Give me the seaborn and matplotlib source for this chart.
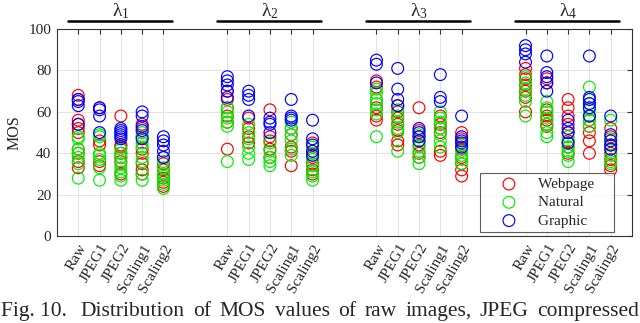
import numpy as np
import pandas as pd
import matplotlib
matplotlib.use("Agg")
import matplotlib.pyplot as plt
import seaborn as sns

categories = ["Raw", "JPEG1", "JPEG2", "Scaling1", "Scaling2"]
groups = [r"$\mathregular{\lambda_1}$", r"$\mathregular{\lambda_2}$",
          r"$\mathregular{\lambda_3}$", r"$\mathregular{\lambda_4}$"]
classes = ["Webpage", "Natural", "Graphic"]

# MOS values per category (Raw, JPEG1, JPEG2, Scaling1, Scaling2)
webpage_l1 = [[68, 66, 56, 54, 52, 50, 42, 40, 36, 33],
              [62, 46, 44, 36, 34],
              [58, 44, 43, 40, 38, 36, 30],
              [54, 52, 48, 42, 40, 35, 32, 30],
              [38, 35, 32, 28, 26, 24]]
natural_l1 = [[48, 47, 42, 40, 38, 35, 28],
              [49, 48, 40, 39, 37, 33, 27],
              [42, 40, 38, 35, 33, 31, 29, 27],
              [50, 48, 45, 43, 38, 36, 30, 27],
              [36, 33, 30, 29, 27, 25, 23]]
graphic_l1 = [[66, 65, 63, 54],
              [62, 61, 58, 50],
              [52, 51, 50, 49, 48, 47],
              [60, 58, 53, 51, 47],
              [48, 46, 44, 41, 38]]

webpage_l2 = [[70, 66, 62, 58, 55, 42],
              [57, 52, 48, 45],
              [61, 48, 46, 42, 38],
              [52, 49, 43, 41, 34],
              [45, 38, 35, 32, 30]]
natural_l2 = [[62, 60, 57, 55, 53, 36],
              [54, 50, 47, 43, 40, 37],
              [45, 41, 38, 36, 34],
              [55, 52, 49, 46, 42, 39],
              [43, 40, 37, 34, 31, 29, 27]]
graphic_l2 = [[77, 75, 73, 70, 67],
              [70, 68, 66, 58],
              [57, 55, 54, 50],
              [66, 58, 57, 56],
              [56, 47, 44, 41, 39]]

webpage_l3 = [[75, 72, 66, 62, 58, 56],
              [63, 60, 57, 54, 51, 46, 44],
              [62, 51, 48, 44, 40, 38],
              [58, 54, 52, 50, 41, 39],
              [50, 47, 42, 38, 35, 32, 29]]
natural_l3 = [[71, 69, 66, 64, 61, 59, 48],
              [61, 58, 55, 52, 50, 41],
              [49, 46, 43, 41, 38, 35],
              [60, 57, 55, 52, 49, 46, 43],
              [44, 41, 39, 37, 35]]
graphic_l3 = [[85, 83, 74],
              [81, 71, 66, 63],
              [52, 50, 48, 46],
              [78, 67, 65],
              [58, 48, 46, 45, 43]]

webpage_l4 = [[81, 78, 76, 73, 70, 67, 60],
              [76, 74, 61, 58, 56, 54, 53],
              [66, 62, 58, 54, 50, 46, 43, 40],
              [58, 56, 53, 50, 46, 40],
              [52, 48, 44, 40, 37, 34, 32]]
natural_l4 = [[77, 74, 71, 68, 65, 58],
              [65, 62, 60, 57, 54, 50, 48],
              [48, 45, 43, 41, 39, 36],
              [72, 64, 61, 58, 56, 53],
              [56, 47, 42, 39, 36, 35]]
graphic_l4 = [[92, 90, 88, 84],
              [87, 79, 77, 74, 70],
              [56, 52, 50, 45],
              [87, 67, 66, 64, 62, 58],
              [58, 49, 46, 44, 42]]

data_by_class = {
    "Webpage": [webpage_l1, webpage_l2, webpage_l3, webpage_l4],
    "Natural": [natural_l1, natural_l2, natural_l3, natural_l4],
    "Graphic": [graphic_l1, graphic_l2, graphic_l3, graphic_l4],
}
colors = {"Webpage": "#ff0000", "Natural": "#00f000", "Graphic": "#0000ff"}

rows = []
for cls in classes:
    for g, per_group in enumerate(data_by_class[cls]):
        for c, vals in enumerate(per_group):
            for v in vals:
                rows.append((cls, 1 + 7 * g + c, v))
df = pd.DataFrame(rows, columns=["cls", "pos", "mos"])

sns.set_style("white")
plt.rcParams["font.family"] = ["Liberation Serif", "DejaVu Serif"]
plt.rcParams["mathtext.fontset"] = "stix"

fig = plt.figure(figsize=(6.4, 3.23), dpi=100)
ax = fig.add_axes([0.089, 0.269, 0.8985, 0.641])

for cls in classes:
    sub = df[df.cls == cls]
    sns.scatterplot(x=sub.pos, y=sub.mos, ax=ax, s=72, marker="o",
                    facecolor="none", edgecolor=colors[cls], linewidth=0.85,
                    label=cls + "    ", zorder=3)

ticks = [1 + 7 * g + c for g in range(4) for c in range(5)]
ax.set_xticks(ticks)
ax.set_xticklabels(categories * 4, rotation=60, ha="right",
                   rotation_mode="anchor", fontsize=11)
ax.set_xlim(0, 27)
ax.set_ylim(0, 100)
ax.set_yticks([0, 20, 40, 60, 80, 100])
ax.tick_params(axis="y", labelsize=11)
ax.tick_params(direction="in", top=True, right=True, length=3.5, width=0.8,
               color="#333333", pad=4)
ax.grid(True, color="#e3e3e3", linewidth=0.7)
ax.set_axisbelow(True)
for sp in ax.spines.values():
    sp.set_color("#333333")
    sp.set_linewidth(0.8)
ax.set_xlabel("")
ax.set_ylabel("MOS", fontsize=11.5)

# group headers
trans = ax.get_xaxis_transform()
for g, name in enumerate(groups):
    x0 = 1 + 7 * g
    ax.plot([x0 - 0.5, x0 + 4.4], [1.04, 1.04], color="black", lw=1.8,
            transform=trans, clip_on=False)
    ax.text(x0 + 2, 1.085, name, transform=trans, ha="center", va="center",
            fontsize=14)

leg = ax.legend(loc="lower right", bbox_to_anchor=(0.969, 0.019),
                borderaxespad=0, fontsize=11, frameon=True, fancybox=False,
                handletextpad=0.3, borderpad=0.3, labelspacing=0.3,
                handlelength=3.2)
leg.get_frame().set_edgecolor("#333333")
leg.get_frame().set_linewidth(0.8)

# justified caption line
words = ["Fig. 10. ", "Distribution", "of", "MOS", "values", "of", "raw",
         "images,", "JPEG", "compressed"]
fig.canvas.draw()
renderer = fig.canvas.get_renderer()
texts = [fig.text(0, 0.022, w, fontsize=15.5) for w in words]
widths = [t.get_window_extent(renderer).width for t in texts]
total = 638.0
gap = (total - sum(widths)) / (len(words) - 1)
xpos = 1.0
for t, w in zip(texts, widths):
    t.set_x(xpos / 640.0)
    xpos += w + gap

fig.savefig("out.png", dpi=100)
